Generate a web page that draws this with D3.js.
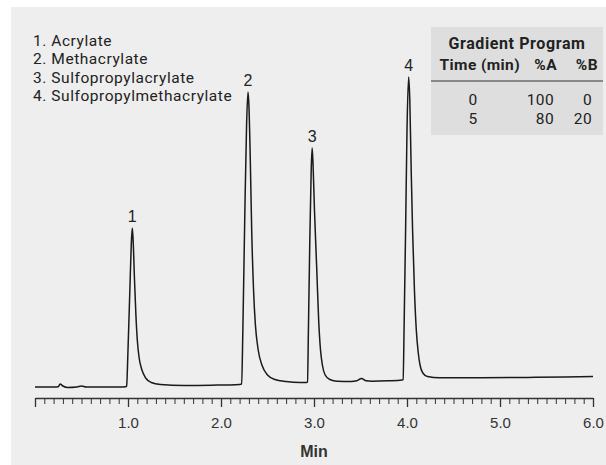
<!DOCTYPE html>
<html>
<head>
<meta charset="utf-8">
<script src="https://cdn.jsdelivr.net/npm/d3@7"></script>
<style>
  html, body { margin: 0; padding: 0; background: #fff; }
  svg { display: block; }
</style>
</head>
<body>
<svg id="chrom" width="606" height="465"></svg>
<script>
// chromatogram trace: retention time (min) and detector response (arbitrary units)
const traceTime = [
  0.00, 0.20, 0.25, 0.27, 0.30, 0.35, 0.45, 0.50, 0.55, 0.70, 0.90, 0.975,
  0.985, 1.00, 1.02, 1.035, 1.046, 1.055, 1.07, 1.085, 1.10, 1.12, 1.15, 1.19, 1.25, 1.35, 1.60, 1.90, 2.20,
  2.222, 2.235, 2.255, 2.275, 2.29, 2.30, 2.315, 2.33, 2.35, 2.37, 2.40, 2.44, 2.50, 2.58, 2.70, 2.85, 2.92,
  2.93, 2.94, 2.955, 2.97, 2.98, 2.99, 3.005, 3.03, 3.05, 3.07, 3.09, 3.12, 3.17, 3.25, 3.40, 3.46, 3.51, 3.56, 3.62, 3.80, 3.948,
  3.958, 3.97, 3.985, 4.00, 4.018, 4.03, 4.045, 4.06, 4.08, 4.10, 4.12, 4.14, 4.17, 4.22, 4.35, 4.80, 5.30, 5.70, 6.00
];
const traceSignal = [
  3, 3, 3.3, 6, 4, 2.5, 3, 4, 3, 3, 3, 3.2,
  4, 40, 100, 145, 162, 150, 110, 75, 50, 32, 20, 12, 7.5, 5.5, 4.5, 4.8, 5.6,
  6, 60, 170, 265, 298, 285, 230, 160, 100, 65, 40, 25, 15, 10.5, 8.5, 7.5, 7.5,
  8, 60, 150, 220, 242, 225, 180, 120, 70, 40, 25, 15, 10.5, 8.8, 8.6, 9.2, 11.5, 9.2, 8.8, 9.2, 10,
  10.5, 70, 160, 260, 313, 290, 220, 160, 100, 60, 38, 25, 17, 13.5, 12.2, 12.2, 12.6, 13, 13.5
];

// numbered peaks
const peakNumber = ['1', '2', '3', '4'];
const peakTime = [1.046, 2.29, 2.98, 4.018];
const peakHeight = [162, 298, 242, 313];
const peakNames = ['Acrylate', 'Methacrylate', 'Sulfopropylacrylate', 'Sulfopropylmethacrylate'];

// gradient table
const gradientHeader = ['Time (min)', '%A', '%B'];
const gradientTime = [0, 5];
const gradientA = [100, 80];
const gradientB = [0, 20];

// x axis
const majorTicks = [1, 2, 3, 4, 5, 6];
const axisTitle = 'Min';

const svg = d3.select('#chrom');
const width = 606, height = 465;
const labelFont = '"Liberation Sans", Arial, sans-serif';
const textFont = 'Roboto, "Noto Sans", sans-serif';

svg.append('rect')
  .attr('x', 11).attr('y', 7)
  .attr('width', width - 11).attr('height', height - 7)
  .attr('fill', '#eeeeee');

const x = d3.scaleLinear().domain([0, 6]).range([35, 593]);
const y = d3.scaleLinear().domain([0, 320]).range([390, 70]);
const axisY = 398;

// minor ticks every 0.1 min, major every 1.0
const xMinor = d3.axisBottom(x)
  .tickValues(d3.range(0, 61).map(i => i / 10))
  .tickSize(6).tickFormat('').tickSizeOuter(0);
svg.append('g')
  .attr('transform', 'translate(0,' + axisY + ')')
  .call(xMinor)
  .call(g => g.select('.domain').attr('stroke', '#333').attr('stroke-width', 1.3))
  .call(g => g.selectAll('.tick line').attr('stroke', '#333').attr('stroke-width', 1));

const xMajor = d3.axisBottom(x)
  .tickValues([0].concat(majorTicks))
  .tickSize(9).tickPadding(10).tickSizeOuter(0)
  .tickFormat(d => d === 0 ? '' : d3.format('.1f')(d));
svg.append('g')
  .attr('transform', 'translate(0,' + axisY + ')')
  .call(xMajor)
  .call(g => g.select('.domain').remove())
  .call(g => g.selectAll('.tick line').attr('stroke', '#333').attr('stroke-width', 1.3))
  .call(g => g.selectAll('.tick text')
    .attr('fill', '#333')
    .attr('font-family', labelFont)
    .attr('font-size', 15));

svg.append('text')
  .attr('x', 314).attr('y', 457)
  .attr('text-anchor', 'middle')
  .attr('font-family', labelFont)
  .attr('font-weight', 'bold')
  .attr('font-size', 16)
  .attr('fill', '#333')
  .text(axisTitle);

// trace
const trace = traceTime.map((t, i) => [t, traceSignal[i]]);
const line = d3.line()
  .x(d => x(d[0]))
  .y(d => y(d[1]))
  .curve(d3.curveMonotoneX);
svg.append('path')
  .attr('d', line(trace))
  .attr('fill', 'none')
  .attr('stroke', '#1a1a1a')
  .attr('stroke-width', 1.5)
  .attr('stroke-linejoin', 'round');

// peak numbers
svg.append('g')
  .selectAll('text')
  .data(peakNumber)
  .enter()
  .append('text')
  .attr('x', (d, i) => x(peakTime[i]))
  .attr('y', (d, i) => y(peakHeight[i]) - 6)
  .attr('text-anchor', 'middle')
  .attr('font-family', labelFont)
  .attr('font-size', 16)
  .attr('fill', '#222')
  .text(d => d);

// compound list
svg.append('g')
  .selectAll('text')
  .data(peakNames)
  .enter()
  .append('text')
  .attr('x', 33)
  .attr('y', (d, i) => 46 + i * 18.4)
  .attr('font-family', textFont)
  .attr('font-size', 15.5)
  .attr('letter-spacing', 0.55)
  .attr('fill', '#222')
  .text((d, i) => peakNumber[i] + '. ' + d);

// gradient program box
const table = svg.append('g').attr('font-family', textFont)
  .attr('font-size', 15.5).attr('fill', '#222')
  .attr('letter-spacing', 0.4);
table.append('rect')
  .attr('x', 431).attr('y', 27).attr('width', 172).attr('height', 108)
  .attr('fill', '#dedede');
table.append('line')
  .attr('x1', 431).attr('x2', 603).attr('y1', 81).attr('y2', 81)
  .attr('stroke', '#333').attr('stroke-width', 1);
table.append('text')
  .attr('x', 517).attr('y', 49)
  .attr('text-anchor', 'middle').attr('font-weight', 'bold')
  .attr('font-size', 16).attr('letter-spacing', 0.6)
  .text('Gradient Program');
const colRight = [520, 557, 598];
table.selectAll('.hdr')
  .data(gradientHeader)
  .enter()
  .append('text')
  .attr('class', 'hdr')
  .attr('x', (d, i) => colRight[i])
  .attr('y', 70)
  .attr('text-anchor', 'end').attr('font-weight', 'bold')
  .text(d => d);
gradientTime.forEach((t, r) => {
  const yy = 105 + r * 19;
  table.append('text').attr('x', 473).attr('y', yy).attr('text-anchor', 'middle').text(t);
  table.append('text').attr('x', 554).attr('y', yy).attr('text-anchor', 'end').text(gradientA[r]);
  table.append('text').attr('x', 592).attr('y', yy).attr('text-anchor', 'end').text(gradientB[r]);
});
</script>
</body>
</html>
